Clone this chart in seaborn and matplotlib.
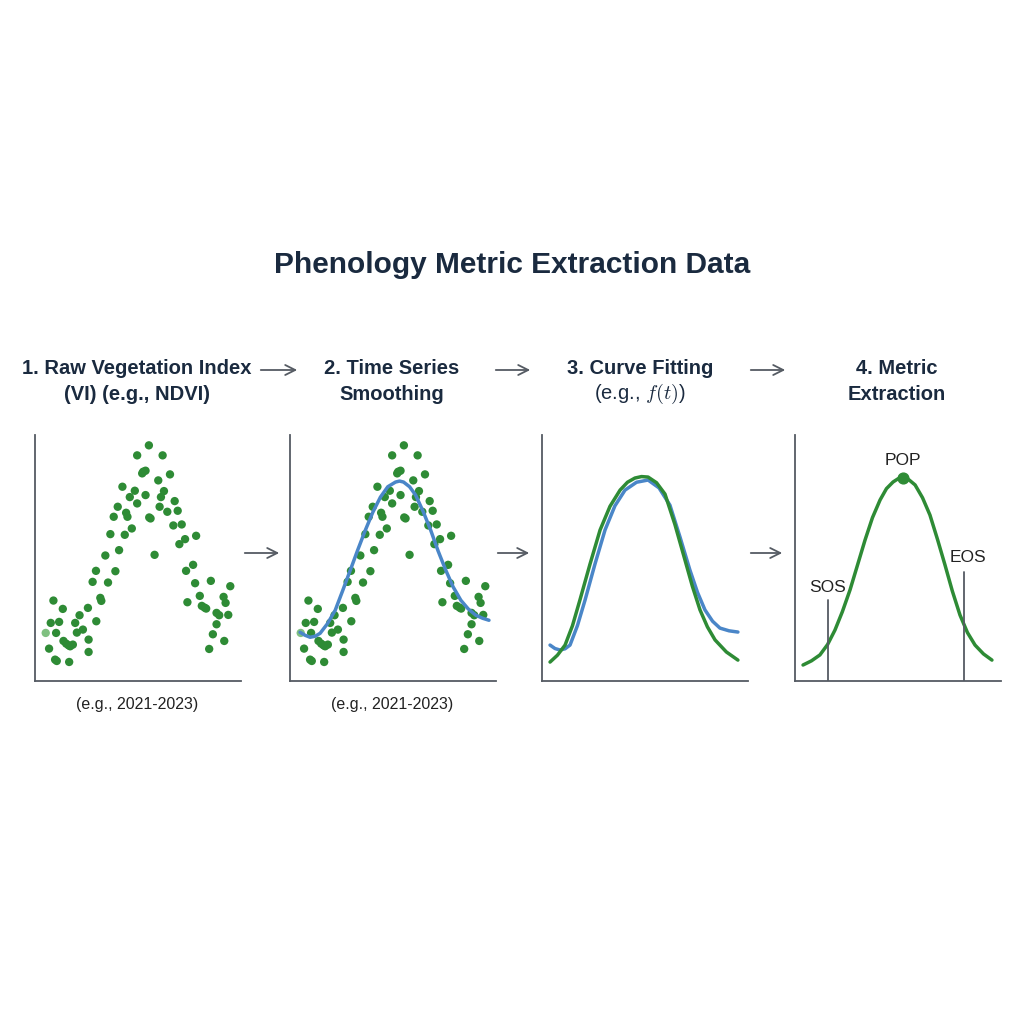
import matplotlib
matplotlib.use("Agg")
import matplotlib.pyplot as plt
import seaborn as sns
import pandas as pd

sns.set_style("white")
plt.rcParams['font.family'] = ['Liberation Sans', 'DejaVu Sans']
plt.rcParams['mathtext.fontset'] = 'cm'

# raw VI observations (time index, NDVI)
raw_t = [47, 57, 62, 70, 78, 75, 80, 87, 98, 100, 108, 115, 117, 120, 128, 135, 140, 148, 158, 173,
         175, 175, 198, 210, 213, 187, 197, 233, 225, 255, 240, 266, 250, 262, 283, 287, 291, 304, 276, 298,
         313, 320, 320, 335, 338, 345, 345, 355, 356, 360, 372, 383, 387, 391, 396, 400, 410, 418, 432, 441,
         428, 453, 446, 463, 496, 466, 487, 493, 470, 507, 513, 521, 526, 540, 557, 565, 557, 546, 535, 578,
         584, 592, 598, 580]
raw_v = [0.152, 0.105, 0.182, 0.249, 0.152, 0.072, 0.068, 0.185, 0.224, 0.128, 0.120, 0.115, 0.065, 0.112,
         0.117, 0.182, 0.153, 0.205, 0.162, 0.227, 0.132, 0.095, 0.187, 0.257, 0.248, 0.305, 0.338, 0.303,
         0.384, 0.337, 0.448, 0.400, 0.500, 0.530, 0.446, 0.512, 0.500, 0.465, 0.590, 0.559, 0.578, 0.540,
         0.684, 0.630, 0.635, 0.638, 0.565, 0.714, 0.498, 0.495, 0.386, 0.609, 0.530, 0.559, 0.684, 0.577,
         0.515, 0.627, 0.547, 0.518, 0.474, 0.477, 0.418, 0.433, 0.443, 0.338, 0.356, 0.301, 0.244, 0.263,
         0.233, 0.228, 0.225, 0.308, 0.212, 0.205, 0.178, 0.148, 0.104, 0.260, 0.242, 0.206, 0.292, 0.128]
raw_light = 0  # first point drawn lighter

# smoothed series
smooth_t = [45, 60, 75, 90, 105, 127, 150, 172, 195, 217, 240, 262, 285, 307, 330, 342, 354, 372,
            390, 412, 435, 457, 480, 502, 525, 547, 570, 590, 609]
smooth_v = [0.154, 0.145, 0.139, 0.142, 0.151, 0.180, 0.220, 0.278, 0.340, 0.400, 0.460, 0.513, 0.559,
            0.590, 0.604, 0.607, 0.604, 0.590, 0.565, 0.517, 0.460, 0.398, 0.340, 0.290, 0.250, 0.224,
            0.205, 0.196, 0.190]

# curve fitting (normalised)
fit_t = [3.9, 7.5, 11.2, 14.8, 18.4, 23.3, 28.2, 33.0, 37.9, 41.5, 45.1, 48.3, 51.5, 55.6, 59.7,
         64.5, 69.4, 73.0, 76.7, 80.3, 84.0, 89.5, 95.1]
fit_v = [0.077, 0.105, 0.146, 0.225, 0.329, 0.475, 0.614, 0.710, 0.776, 0.808, 0.825, 0.831, 0.829,
         0.806, 0.760, 0.637, 0.492, 0.385, 0.289, 0.220, 0.167, 0.118, 0.085]
obs_t = [3.9, 6.3, 8.7, 11.2, 13.6, 17.2, 20.9, 25.7, 30.6, 35.4, 40.3, 45.9, 51.5, 56.8, 62.1,
         67.0, 71.8, 75.5, 79.1, 82.8, 86.4, 90.8, 95.1]
obs_v = [0.146, 0.132, 0.126, 0.131, 0.146, 0.225, 0.329, 0.475, 0.614, 0.712, 0.776, 0.808, 0.817,
         0.785, 0.715, 0.585, 0.451, 0.360, 0.289, 0.243, 0.215, 0.204, 0.199]

# metric extraction
met_t = [3.9, 8.0, 12.1, 15.8, 19.4, 23.0, 26.7, 30.3, 34.0, 37.6, 41.3, 44.4, 47.6, 50.0, 52.4,
         55.3, 58.3, 61.9, 65.5, 69.2, 72.8, 76.4, 80.1, 83.7, 87.4, 91.5, 95.6]
met_v = [0.065, 0.082, 0.106, 0.148, 0.207, 0.282, 0.370, 0.470, 0.573, 0.664, 0.736, 0.782, 0.809,
         0.822, 0.825, 0.818, 0.797, 0.745, 0.675, 0.575, 0.472, 0.365, 0.268, 0.197, 0.146, 0.110, 0.085]
sos = (16.0, 0.33)
eos = (82.0, 0.443)
pop = (52.4, 0.825)

# (first line, second line, second line bold?)
titles = [("1. Raw Vegetation Index", "(VI) (e.g., NDVI)", True),
          ("2. Time Series", "Smoothing", True),
          ("3. Curve Fitting", "(e.g., $f(t)$)", False),
          ("4. Metric", "Extraction", True)]
caption = "(e.g., 2021-2023)"

GREEN = "#2e8b35"
BLUE = "#4a86c8"
NAVY = "#1a2a3f"
GRAY = "#555b63"

fig = plt.figure(figsize=(10.24, 10.24), dpi=100)
W, H = 1024, 1024
lefts = [35, 290, 542, 795]
title_x = [137, 392, 640, 897]
axes = []
for l in lefts:
    ax = fig.add_axes([l / W, (H - 681) / H, 206 / W, 246 / H])
    sns.despine(ax=ax)
    for s in ["left", "bottom"]:
        ax.spines[s].set_color(GRAY)
        ax.spines[s].set_linewidth(1.3)
    ax.set_xticks([])
    ax.set_yticks([])
    axes.append(ax)

raw = pd.DataFrame({"t": raw_t, "v": raw_v})
for ax in axes[:2]:
    sns.scatterplot(data=raw.iloc[1:], x="t", y="v", ax=ax, color=GREEN, s=36, edgecolor="none")
    ax.scatter(raw_t[raw_light], raw_v[raw_light], color="#7fc080", s=36, edgecolor="none")
    ax.set_xlim(15, 630)
    ax.set_ylim(0.008, 0.745)
    ax.set_xlabel("")
    ax.set_ylabel("")

sns.lineplot(x=smooth_t, y=smooth_v, ax=axes[1], color=BLUE, linewidth=2.5)
sns.lineplot(x=obs_t, y=obs_v, ax=axes[2], color=BLUE, linewidth=2.5)
sns.lineplot(x=fit_t, y=fit_v, ax=axes[2], color=GREEN, linewidth=2.5)
sns.lineplot(x=met_t, y=met_v, ax=axes[3], color=GREEN, linewidth=2.5)
for ax in axes[2:]:
    ax.set_xlim(0, 100)
    ax.set_ylim(0, 1)

a4 = axes[3]
a4.plot([sos[0], sos[0]], [0, sos[1]], color=GRAY, lw=1.3)
a4.plot([eos[0], eos[0]], [0, eos[1]], color=GRAY, lw=1.3)
a4.scatter([pop[0]], [pop[1]], color=GREEN, s=60, zorder=3)
a4.text(sos[0], sos[1] + 0.02, "SOS", ha="center", va="bottom", fontsize=12.5, color="#222")
a4.text(eos[0] + 2, eos[1] + 0.03, "EOS", ha="center", va="bottom", fontsize=12.5, color="#222")
a4.text(pop[0], pop[1] + 0.04, "POP", ha="center", va="bottom", fontsize=12.5, color="#222")

fig.text(0.5, 1 - 265 / H, "Phenology Metric Extraction Data", ha="center", va="center",
         fontsize=21.5, fontweight="bold", color=NAVY)
for x, (l1, l2, b2) in zip(title_x, titles):
    fig.text(x / W, 1 - 369 / H, l1, ha="center", va="center", fontsize=14.5,
             fontweight="bold", color=NAVY)
    fig.text(x / W, 1 - 394 / H, l2, ha="center", va="center", fontsize=14.5,
             fontweight="bold" if b2 else "normal", color=NAVY)
for x in title_x[:2]:
    fig.text(x / W, 1 - 704 / H, caption, ha="center", va="center", fontsize=11.5, color="#222")

for (x0, x1), y in [((258, 300), 370), ((493, 533), 370), ((748, 788), 370),
                    ((242, 282), 553), ((495, 532), 553), ((748, 785), 553)]:
    fig.add_artist(matplotlib.patches.FancyArrowPatch(
        (x0 / W, 1 - y / H), (x1 / W, 1 - y / H), transform=fig.transFigure,
        arrowstyle="->", mutation_scale=18, color=GRAY, lw=1.3))

fig.savefig("out.png", dpi=100, facecolor="white")
